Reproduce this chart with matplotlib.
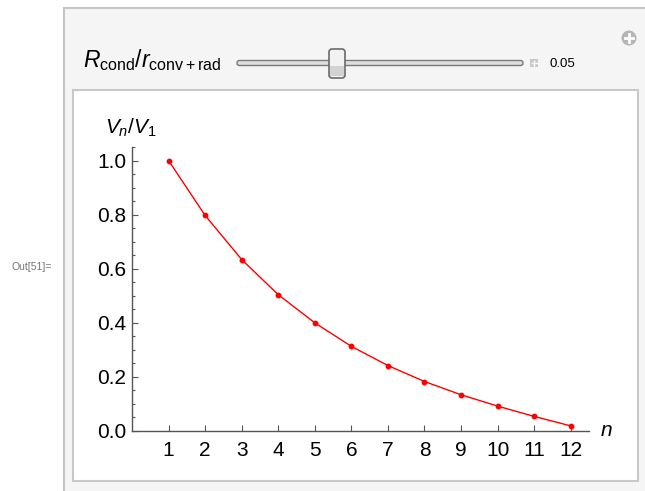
import matplotlib
matplotlib.use("Agg")
import matplotlib.pyplot as plt
from matplotlib.patches import Rectangle, FancyBboxPatch, Circle
from matplotlib.ticker import MultipleLocator

plt.rcParams['font.family'] = ['Liberation Sans', 'DejaVu Sans']
plt.rcParams['mathtext.fontset'] = 'custom'
plt.rcParams['mathtext.rm'] = 'Liberation Sans'
plt.rcParams['mathtext.it'] = 'Liberation Sans:italic'

# values (R_cond / r_conv+rad = 0.05)
n_values = [1, 2, 3, 4, 5, 6, 7, 8, 9, 10, 11, 12]
v_ratio = [1.0, 0.797, 0.634, 0.504, 0.400, 0.313, 0.242, 0.183, 0.134, 0.092, 0.054, 0.019]
y_ticks = [0.0, 0.2, 0.4, 0.6, 0.8, 1.0]
y_tick_labels = ["0.0", "0.2", "0.4", "0.6", "0.8", "1.0"]
slider_value = "0.05"

W, H = 645, 491
fig = plt.figure(figsize=(W / 100, H / 100), dpi=100)

# background drawn in pixel coords (the Manipulate panel)
bg = fig.add_axes([0, 0, 1, 1])
bg.set_xlim(0, W)
bg.set_ylim(H, 0)
bg.axis('off')

bg.add_patch(Rectangle((64, 8), 700, 600, fc='#f5f5f5', ec='#c6c6c6', lw=1.5))
bg.add_patch(Rectangle((73, 90), 565, 391, fc='white', ec='#c8c8c8', lw=1.5))
bg.text(32, 267, "Out[51]=", fontsize=7.5, color='#777777', ha='center', va='center')

# slider row
bg.text(83, 67, r'$R_{\mathrm{cond}}/r_{\mathrm{conv+rad}}$', fontsize=16.5, va='baseline')
bg.add_patch(FancyBboxPatch((237, 60.5), 286, 5, boxstyle='round,pad=0,rounding_size=2.5',
                            fc='#dedede', ec='#7a7a7a', lw=1))
bg.add_patch(FancyBboxPatch((329, 49), 16, 29, boxstyle='round,pad=0,rounding_size=3',
                            fc='#f2f2f2', ec='#6a6a6a', lw=1.2, zorder=3))
bg.add_patch(Rectangle((330, 66), 14, 10, fc='#d2d2d2', ec='none', zorder=4))
bg.add_patch(Rectangle((530, 59), 8, 8, fc='#c9c9c9', ec='none'))
bg.plot([531.5, 536.5], [63, 63], color='white', lw=1)
bg.plot([534, 534], [60.5, 65.5], color='white', lw=1)
bg.text(549, 63.5, slider_value, fontsize=9.5, va='center')
bg.add_patch(Circle((629, 38), 7.5, fc='#b5b5b5', ec='none'))
bg.plot([625, 633], [38, 38], color='white', lw=2)
bg.plot([629, 629], [34, 42], color='white', lw=2)

# the plot itself
ax = fig.add_axes([132 / W, 1 - 431 / H, (589 - 132) / W, (431 - 147) / H])
ax.patch.set_alpha(0)
ax.plot(n_values, v_ratio, color='red', lw=1)
ax.plot(n_values, v_ratio, 'o', color='red', ms=3.2, clip_on=False)
ax.set_xlim(0, 12.5)
ax.set_ylim(0, 1.05)
ax.set_xticks(n_values)
ax.set_yticks(y_ticks)
ax.set_yticklabels(y_tick_labels)
ax.yaxis.set_minor_locator(MultipleLocator(0.05))
for s in ['top', 'right']:
    ax.spines[s].set_visible(False)
for s in ['left', 'bottom']:
    ax.spines[s].set_color('#555555')
    ax.spines[s].set_linewidth(1)
ax.tick_params(axis='both', which='major', direction='in', length=4.5, width=0.8,
               color='#555555', labelsize=15, labelcolor='black')
ax.tick_params(axis='y', which='minor', direction='in', length=2.5, width=0.8, color='#555555')
ax.tick_params(axis='y', pad=4)
ax.tick_params(axis='x', pad=7)

bg.text(105, 128, r'$V_n/V_1$', fontsize=15, va='center', ha='left')
bg.text(600, 430, r'$n$', fontsize=15, va='center', ha='left')

fig.savefig("out.png", dpi=100)
